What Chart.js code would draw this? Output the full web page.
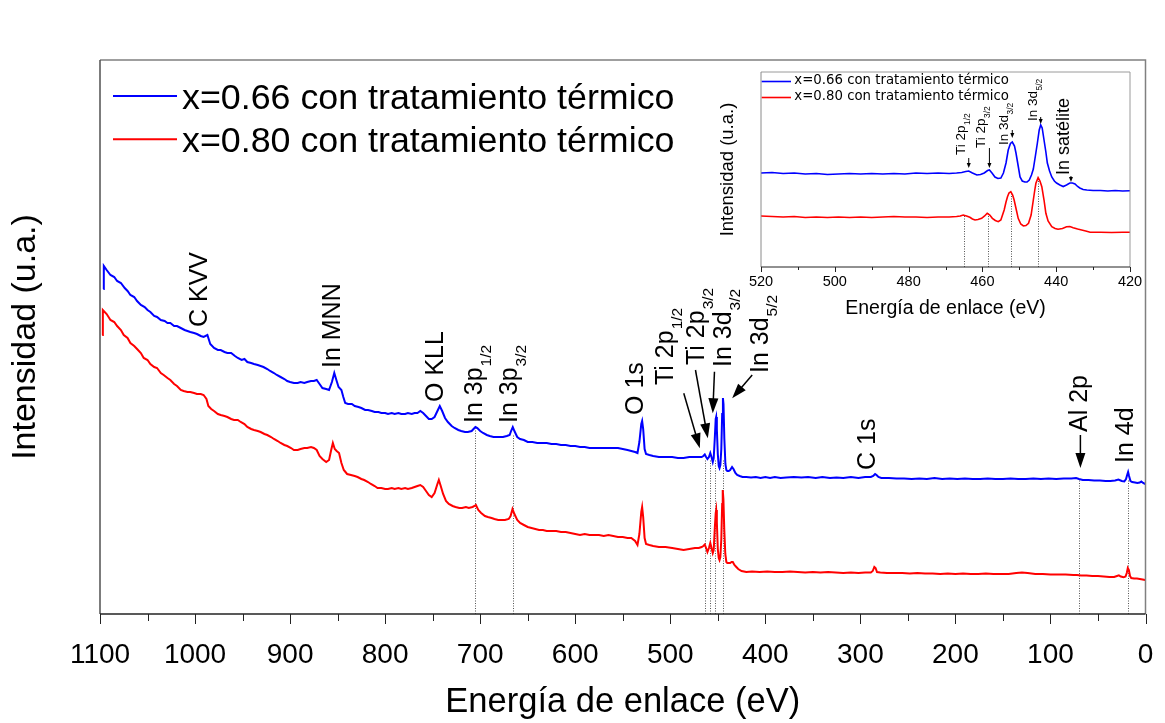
<!DOCTYPE html>
<html lang="es">
<head>
<meta charset="utf-8">
<title>Espectro XPS</title>
<script src="https://cdn.jsdelivr.net/npm/chart.js@4.4.1/dist/chart.umd.min.js"></script>
<style>
  html, body { margin: 0; padding: 0; background: #fff; }
  #wrap { position: relative; width: 1165px; height: 723px; }
  #survey { position: absolute; left: 0; top: 0; }
  #detail { position: absolute; left: 700px; top: 62px; }
</style>
</head>
<body>
<div id="wrap">
  <canvas id="survey" width="1165" height="723"></canvas>
  <canvas id="detail" width="445" height="263"></canvas>
</div>
<script>
const seriesLabels = ['x=0.66 con tratamiento térmico', 'x=0.80 con tratamiento térmico'];
const seriesColors = ['#0000ff', '#ff0000'];

// survey spectrum, x = 0.66
const energyBlue = [
  1096.5, 1096, 1093, 1089, 1085, 1082, 1078, 1074, 1071, 1068, 1064, 1061, 1057, 1053, 1050, 1047,
  1043, 1040, 1036, 1032, 1029, 1026, 1022, 1019, 1015, 1011, 1008, 1005, 1001, 998, 994, 991,
  987, 984, 980, 976, 973, 969, 966, 962, 958, 955, 951, 948, 945, 941, 938, 934, 931, 928, 924,
  921, 917, 914, 910, 906, 903, 900, 896, 892, 889, 885, 882, 878, 875, 872, 869, 866, 862, 859,
  856, 853.5, 851, 849, 846, 844, 842, 839, 835, 832, 828, 825, 821, 818, 814, 811, 807, 804, 800,
  797, 793, 790, 786, 783, 779, 776, 772, 769, 766, 763, 760, 757, 754, 751, 748, 745, 742.5, 740,
  737, 734, 730, 727, 723, 720, 716, 713, 709, 707, 705, 703, 700, 697, 693, 690, 686, 683, 679,
  676, 672, 669, 667.5, 665.7, 664, 661, 658, 654, 650, 645, 640, 635, 630, 625, 620, 615, 610,
  605, 600, 595, 590, 585, 580, 575, 570, 565, 560, 555, 550, 545, 541, 537, 534.5, 532.5, 530.5,
  529.6, 528.5, 527, 525.5, 522, 518, 512, 505, 498, 492, 486, 480, 474, 470, 467, 465.2, 463.7,
  462.3, 460.9, 459.3, 457.9, 456.6, 455.3, 454.3, 453.2, 452.2, 451.7, 451, 450, 449, 448.2,
  447.3, 446.3, 445.4, 444.6, 444, 443.1, 442, 441, 440, 438.5, 437, 435, 433.5, 431.5, 429.6,
  427, 424, 420, 415, 410, 405, 400, 395, 390, 384, 378, 370, 362, 355, 347, 340, 332, 325, 318,
  310, 302, 295, 289, 286.5, 284.5, 283, 281, 278, 270, 262, 254, 246, 238, 230, 222, 214, 206,
  198, 190, 182, 174, 166, 158, 150, 142, 134, 126, 118, 110, 102, 94, 86, 78, 73, 70, 66, 60, 54,
  48, 42, 37, 32, 28.5, 25, 22.3, 20.5, 19, 18.3, 17.3, 15.8, 14, 11, 8.6, 6, 4.4, 2.5, 0.3
];
const intensityBlue = [
  325, 348, 344, 339, 337, 333, 331, 326, 323, 319, 317, 313, 309, 307, 304, 302,
  298, 297, 294, 293, 291, 291, 288, 288, 286, 284, 283, 282, 281, 280, 278, 277,
  279, 270, 266, 264, 264, 262, 261, 261, 258, 256, 254, 255, 252, 251, 250, 249, 248, 247, 245,
  243, 241, 239, 237, 235, 233, 232, 231, 231, 232, 231, 232, 233, 233, 234, 230, 226, 225, 224,
  232, 241, 233, 227, 224, 217, 211, 210, 210, 208, 207, 206, 204, 204, 203, 202, 202, 201, 201,
  200, 201, 200, 201, 200, 200, 201, 200, 201, 201, 203, 201, 198, 195, 195, 197, 203, 208, 203,
  196, 192, 188, 186, 184, 183, 182, 182, 183, 185, 187, 186, 183, 181, 179, 178, 177, 177, 177,
  177, 178, 179, 183, 187, 183, 177, 175, 174, 172, 172, 171, 171, 171, 170, 170, 169, 169,
  168, 168, 167, 167, 166, 166, 166, 166, 166, 166, 166, 165, 164, 163, 162, 161, 172, 190,
  193, 185, 165, 160, 159, 158, 157, 157, 157, 156, 156, 157, 157, 157, 157, 158, 159.5,
  157, 155, 157, 161, 157, 152, 156, 175, 195, 197, 185, 160, 148, 146,
  149, 165, 200, 216, 210, 175, 150, 144, 143, 143, 144, 147, 145, 141, 139,
  138, 137, 137, 136.5, 137, 136, 137, 136, 137, 136, 136.5, 137, 136.5, 137, 136, 137, 136, 136.5, 136,
  137, 136, 137, 137, 138, 140, 139, 137, 136, 136, 135.5, 135.5, 135, 135.5, 135, 136, 135, 135.5,
  135, 135.5, 135, 135, 135.5, 135, 135, 135.5, 135, 135, 135.5, 135, 135.5, 135, 135.5, 135.5, 136, 135, 134, 134, 133.5,
  133.5, 133, 133, 133.5, 134.5, 133, 132.5, 135, 140, 142, 138, 133, 132, 131.5, 131, 131.5, 132.5, 131, 130
];

// survey spectrum, x = 0.80
const energyRed = [
  1097.7, 1097, 1093, 1089, 1085, 1082, 1078, 1075, 1071, 1068, 1064, 1061, 1057, 1054, 1050, 1047,
  1043, 1040, 1036, 1033, 1029, 1026, 1022, 1019, 1015, 1012, 1008, 1005, 1001, 998, 994, 991,
  988, 986, 983, 980, 976, 973, 969, 966, 962, 959, 955, 952, 948, 945, 941, 938, 934, 931, 927,
  924, 920, 917, 913, 910, 906, 903, 899, 896, 892, 889, 885, 882, 878, 875, 872, 869, 866, 862,
  859, 857, 855, 853, 851, 848.5, 846, 843.5, 840, 836, 832, 829, 825, 822, 818, 815, 811, 808,
  804, 800, 797, 793, 790, 786, 783, 779, 776, 772, 769, 766, 763, 760, 757, 754, 751, 748, 745,
  743.5, 741.5, 739, 736, 733, 729, 726, 722, 719, 715, 712, 708, 706, 704.5, 702, 699, 695, 692,
  688, 685, 681, 677, 674, 670, 668, 666, 664, 661, 658, 654, 650, 646, 642, 638, 634, 630, 625,
  620, 615, 610, 605, 600, 595, 590, 585, 580, 575, 570, 565, 560, 555, 550, 545, 541, 537, 534.5,
  532.5, 530.5, 529.6, 528.5, 527, 525.5, 522, 518, 512, 505, 498, 492, 486, 480, 474, 470, 467,
  465.2, 463.7, 462.3, 460.9, 459.3, 457.9, 456.6, 455.3, 454.3, 453.2, 452.2, 451.7, 451, 450,
  449, 448.2, 447.3, 446.3, 445.4, 444.8, 444.1, 443.2, 442.1, 441, 440, 438.5, 437, 435.5, 434.2,
  432.5, 430.5, 428.5, 425, 420, 414, 406, 398, 390, 382, 374, 366, 358, 350, 342, 334, 326, 318,
  310, 302, 295, 289, 287, 285.3, 284, 282.5, 279, 272, 264, 256, 248, 240, 232, 224, 216, 208,
  200, 192, 184, 176, 168, 160, 152, 144, 136, 130, 124, 116, 108, 100, 92, 84, 76, 72, 68, 62,
  56, 50, 44, 38, 33, 30, 28, 26, 23, 21, 19.7, 18.6, 17.5, 16.3, 15, 12, 9, 6, 3, 0.3
];
const intensityRed = [
  279, 304, 300, 294, 292, 288, 284, 279, 276, 271, 268, 265, 261, 256, 254, 250,
  247, 246, 241, 239, 236, 234, 230, 228, 224, 223, 222, 222, 221, 220, 220, 219,
  215, 208, 205, 203, 200, 199, 198, 197, 195, 194, 194, 192, 190, 187, 185, 184, 183, 182, 180,
  179, 177, 175, 173, 171, 169, 168, 166, 164, 164, 165, 166, 166, 167, 166, 164, 158, 155, 152,
  154, 163, 171, 165, 163, 161, 151, 144, 140, 139, 138, 137, 135, 134, 132, 130, 128, 126,
  126, 125, 125, 126, 125, 126, 125, 126, 125, 126, 127, 128, 129, 127, 123, 119, 117, 121, 130,
  134, 128, 120, 113, 110, 108, 107, 106, 106, 107, 106, 107, 108, 109, 104, 101, 98, 97,
  96, 95, 94, 94, 94, 95, 98, 105, 100, 94, 91, 89, 87, 86, 85, 84, 84, 83, 83,
  83, 82, 82, 81, 80, 79, 80, 79, 79, 79, 78, 79, 78, 77, 77, 76, 76, 73, 69,
  80, 102, 107, 97, 76, 70, 69, 68, 67, 67, 66, 65, 64, 65, 66, 66, 67,
  68, 69.5, 66, 62, 66, 71, 66, 61, 64, 85, 101, 104, 92, 65,
  56, 54, 57, 75, 110, 124, 115, 85, 60, 52, 51, 51, 51, 52, 52,
  49, 47, 45, 43, 42, 42.5, 42, 42.5, 42, 42, 42.5, 42, 41.5, 42, 41.5, 42, 41.5, 41,
  41.5, 41, 41.5, 41.5, 43, 47, 46, 42, 41.5, 41, 41, 41, 40.5, 41, 40.5, 40.5, 40, 40.5,
  40, 40.5, 40, 40, 40.5, 40, 40, 40, 41, 41.5, 41, 40, 40, 39.5, 39.5, 39.5, 39, 39, 38.5, 38.5,
  38, 38, 37.5, 37, 37, 38, 38.7, 37.5, 36.7, 37.5, 41, 46, 44, 38, 36, 35.5, 35.5, 35, 34.5, 34
];

// In 3d / Ti 2p detail window
const insetEnergyBlue = [
  520, 517, 514, 511, 508, 505, 502, 499, 496, 493, 490, 487, 484, 481, 478, 475, 472, 469, 467,
  465.6, 464.5, 463.7, 462.7, 461.5, 460.5, 459.5, 458.6, 458.1, 457.4, 456.6, 455.8, 455, 454.3,
  453.6, 453, 452.4, 451.9, 451.3, 450.9, 450.3, 449.8, 449.2, 448.5, 447.9, 447.3, 446.7, 446.2,
  445.6, 445.1, 444.6, 444.2, 443.8, 443.3, 442.8, 442.4, 441.8, 441.2, 440.5, 439.9, 439, 438.1,
  437.2, 436.3, 435.6, 434.9, 434.2, 433.6, 432.7, 431.7, 430, 428, 426, 424, 422, 420
];
const insetIntensityBlue = [
  94, 94.5, 93.5, 94, 93, 93.5, 92.5, 93, 93.5, 93, 93.5, 93, 93.5, 93, 94, 93.5, 94, 93.5, 94,
  94.5, 95.5, 96, 94, 92, 92.5, 94, 96.5, 97, 94, 90, 88.5, 89, 94,
  104, 117, 123.5, 125, 121, 114, 101, 90, 86, 85, 85, 87, 92, 98,
  112, 124, 137, 142, 139, 127, 115, 104, 96, 90, 86, 84, 82, 80.5,
  82, 84, 84, 83, 80.5, 79, 77.5, 77, 76.5, 76.5, 76, 76.5, 76, 76.3
];
const insetEnergyRed = [
  520, 517, 514, 511, 508, 505, 502, 499, 496, 493, 490, 487, 484, 481, 478, 475, 472, 469, 467,
  466, 465.2, 464.3, 463.4, 462.7, 462, 461.2, 460.2, 459.4, 458.7, 458, 457.3, 456.5, 455.7, 455,
  454.1, 453.6, 453.2, 452.8, 452.3, 451.8, 451.4, 450.8, 450.3, 449.6, 448.9, 448.2, 447.5, 446.8,
  446.2, 445.8, 445.5, 444.9, 444.4, 443.9, 443.3, 442.8, 442.2, 441.2, 440.3, 439.5, 438.3, 437.2,
  436.3, 435.4, 434.2, 433.1, 432, 430.8, 428, 425, 422, 420
];
const insetIntensityRed = [
  51, 50.5, 50, 50.5, 49.5, 50, 49.5, 50, 49.5, 50, 49.5, 50, 50.5, 50, 50, 49.5, 50, 50, 50.5,
  51, 52, 51, 49.7, 48, 47, 47.5, 48.7, 51, 53.7, 52, 48.7, 46.5, 45.3, 47,
  57, 65, 70.3, 74, 75.3, 72, 67, 57, 48.7, 43, 41, 41.5, 43.7, 52,
  67, 77, 83.7, 89.3, 86, 80.3, 67, 53.7, 46, 40.3, 38.5, 37.7, 38.5, 40.3,
  40.5, 39.3, 38, 37, 36, 34.7, 34.7, 34.5, 34.7, 34.7
];

const surveyMajorTicks = [1100, 1000, 900, 800, 700, 600, 500, 400, 300, 200, 100, 0];
const surveyMinorTicks = [1050, 950, 850, 750, 650, 550, 450, 350, 250, 150, 50];
const insetMajorTicks = [520, 500, 480, 460, 440, 420];
const insetMinorTicks = [510, 490, 470, 450, 430];

// peak assignments: baseline start of each vertical label, in energy / intensity units
const surveyLabels = [
  { text: 'C KVV', e: 987, i: 287 },
  { text: 'In MNN', e: 847, i: 246 },
  { text: 'O KLL', e: 738.6, i: 212 },
  { text: 'In 3p', sub: '1/2', e: 697.6, i: 191 },
  { text: 'In 3p', sub: '3/2', e: 660.8, i: 191 },
  { text: 'O 1s', e: 528.2, i: 199 },
  { text: 'Ti 2p', sub: '1/2', e: 497.1, i: 229 },
  { text: 'Ti 2p', sub: '3/2', e: 464.5, i: 249 },
  { text: 'In 3d', sub: '3/2', e: 436.1, i: 247 },
  { text: 'In 3d', sub: '5/2', e: 397.5, i: 241 },
  { text: 'C 1s', e: 284.3, i: 144 },
  { text: 'Al 2p', e: 61.5, i: 182 },
  { text: 'In 4d', e: 12.7, i: 151 }
];
const surveyArrows = [
  { e1: 485.8, i1: 220.7, e2: 468.9, i2: 165.7 },
  { e1: 473.5, i1: 244, e2: 460.5, i2: 175.7 },
  { e1: 453.5, i1: 242.3, e2: 455.3, i2: 200.7 },
  { e1: 413.8, i1: 239, e2: 434.9, i2: 215.7 },
  { e1: 68.5, i1: 179, e2: 68.5, i2: 146 }
];
const surveyGuides = [
  { e: 705, i: 184 }, { e: 665.7, i: 180 }, { e: 463.7, i: 155 }, { e: 458.4, i: 155 },
  { e: 452.7, i: 155 }, { e: 444.7, i: 154 }, { e: 69.5, i: 135 }, { e: 18.5, i: 134 }
];

const insetLabels = [
  { text: 'Ti 2p', sub: '1/2', e: 464.7, i: 112 },
  { text: 'Ti 2p', sub: '3/2', e: 459.3, i: 119 },
  { text: 'In 3d', sub: '3/2', e: 453, i: 122 },
  { text: 'In 3d', sub: '5/2', e: 445.3, i: 146 },
  { text: 'In satélite', e: 436.5, i: 92, size: 18 }
];
const insetArrows = [
  { e1: 463.7, i1: 109, e2: 463.7, i2: 99 },
  { e1: 458.1, i1: 119, e2: 458.1, i2: 99 },
  { e1: 451.9, i1: 137, e2: 451.9, i2: 129 },
  { e1: 444.2, i1: 150, e2: 444.2, i2: 143 },
  { e1: 436, i1: 91, e2: 436, i2: 85 }
];
const insetGuides = [
  { e: 465.1, i: 52 }, { e: 458.5, i: 54 }, { e: 452.3, i: 74 }, { e: 445, i: 88 }
];

const SANS = '"Liberation Sans", Arial, sans-serif';

function pairs(xs, ys) {
  return xs.map((x, k) => ({ x: x, y: ys[k] }));
}

function datasets(width) {
  return [
    { label: seriesLabels[0], data: [], borderColor: seriesColors[0], borderWidth: width, pointRadius: 0, tension: 0 },
    { label: seriesLabels[1], data: [], borderColor: seriesColors[1], borderWidth: width, pointRadius: 0, tension: 0 }
  ];
}

function vtext(ctx, x, y, text, sub, size) {
  ctx.save();
  ctx.translate(x, y);
  ctx.rotate(-Math.PI / 2);
  ctx.fillStyle = '#000';
  ctx.textBaseline = 'alphabetic';
  ctx.textAlign = 'left';
  ctx.font = size + 'px ' + SANS;
  ctx.fillText(text, 0, 0);
  if (sub) {
    const w = ctx.measureText(text).width;
    ctx.font = (size * 0.62) + 'px ' + SANS;
    ctx.fillText(sub, w + size * 0.04, size * 0.36);
  }
  ctx.restore();
}

function arrow(ctx, x1, y1, x2, y2, head, width) {
  const a = Math.atan2(y2 - y1, x2 - x1);
  const c = Math.cos(a), s = Math.sin(a);
  ctx.beginPath();
  ctx.moveTo(x1, y1);
  ctx.lineTo(x2 - c * head * 0.8, y2 - s * head * 0.8);
  ctx.stroke();
  ctx.beginPath();
  ctx.moveTo(x2, y2);
  ctx.lineTo(x2 - head * c + width / 2 * s, y2 - head * s - width / 2 * c);
  ctx.lineTo(x2 - head * c - width / 2 * s, y2 - head * s + width / 2 * c);
  ctx.closePath();
  ctx.fill();
}

function notesPlugin(cfg) {
  return {
    id: 'notes',
    beforeDatasetsDraw(chart) {
      const { ctx, scales: { x, y } } = chart;
      ctx.save();
      ctx.strokeStyle = '#555';
      ctx.lineWidth = 1;
      ctx.setLineDash([1, 1.5]);
      cfg.guides.forEach(g => {
        const px = Math.round(x.getPixelForValue(g.e)) + 0.5;
        ctx.beginPath();
        ctx.moveTo(px, y.getPixelForValue(0));
        ctx.lineTo(px, y.getPixelForValue(g.i));
        ctx.stroke();
      });
      ctx.restore();
    },
    afterDatasetsDraw(chart) {
      const { ctx, chartArea: a, scales: { x, y } } = chart;
      ctx.save();
      cfg.labels.forEach(l => {
        vtext(ctx, x.getPixelForValue(l.e), y.getPixelForValue(l.i), l.text, l.sub, l.size || cfg.labelSize);
      });
      ctx.strokeStyle = '#000';
      ctx.fillStyle = '#000';
      ctx.lineWidth = cfg.arrowWidth;
      cfg.arrows.forEach(r => {
        arrow(ctx, x.getPixelForValue(r.e1), y.getPixelForValue(r.i1),
          x.getPixelForValue(r.e2), y.getPixelForValue(r.i2), cfg.head[0], cfg.head[1]);
      });

      // frame: light top/right, darker left, dark bottom axis with outward ticks
      ctx.lineWidth = cfg.frameWidth;
      ctx.strokeStyle = cfg.frameColor;
      ctx.beginPath();
      ctx.moveTo(a.left, a.top);
      ctx.lineTo(a.right, a.top);
      ctx.lineTo(a.right, a.bottom);
      ctx.stroke();
      ctx.strokeStyle = cfg.leftColor;
      ctx.beginPath();
      ctx.moveTo(a.left, a.top);
      ctx.lineTo(a.left, a.bottom);
      ctx.stroke();
      ctx.strokeStyle = '#222';
      ctx.beginPath();
      ctx.moveTo(a.left, a.bottom);
      ctx.lineTo(a.right, a.bottom);
      ctx.stroke();
      ctx.lineWidth = 1;
      cfg.major.forEach(v => {
        const px = Math.round(x.getPixelForValue(v)) + 0.5;
        ctx.beginPath(); ctx.moveTo(px, a.bottom); ctx.lineTo(px, a.bottom + cfg.tick[0]); ctx.stroke();
      });
      cfg.minor.forEach(v => {
        const px = Math.round(x.getPixelForValue(v)) + 0.5;
        ctx.beginPath(); ctx.moveTo(px, a.bottom); ctx.lineTo(px, a.bottom + cfg.tick[1]); ctx.stroke();
      });

      // legend
      const lg = cfg.legend;
      chart.data.datasets.forEach((ds, k) => {
        const ly = lg.y + k * lg.gap;
        ctx.strokeStyle = ds.borderColor;
        ctx.lineWidth = lg.lineWidth;
        ctx.beginPath();
        ctx.moveTo(lg.x, ly);
        ctx.lineTo(lg.x + lg.len, ly);
        ctx.stroke();
        ctx.fillStyle = '#000';
        ctx.font = lg.font;
        ctx.textBaseline = 'alphabetic';
        ctx.textAlign = 'left';
        ctx.fillText(ds.label, lg.x + lg.len + lg.textGap, ly + lg.baseline);
      });
      ctx.restore();
    }
  };
}

function axes(o) {
  return {
    x: {
      type: 'linear', min: o.min, max: o.max, reverse: true,
      afterFit: s => { s.height = o.xHeight; },
      afterBuildTicks: s => {
        s.ticks = o.major.concat(o.minor).sort((p, q) => p - q).map(v => ({ value: v }));
      },
      ticks: {
        autoSkip: false, maxRotation: 0, color: '#000', padding: o.tickPad,
        font: { family: SANS, size: o.tickSize },
        callback: v => (o.major.includes(v) ? String(v) : '')
      },
      grid: { display: false, drawTicks: true, tickLength: o.tickLen },
      border: { display: false },
      title: {
        display: true, text: 'Energía de enlace (eV)', color: '#000',
        font: { family: SANS, size: o.titleSize }, padding: { top: 0, bottom: o.titlePad }
      }
    },
    y: {
      min: 0, max: o.yMax,
      afterFit: s => { s.width = o.yWidth; },
      ticks: { display: false },
      grid: { display: false, drawTicks: false },
      border: { display: false },
      title: {
        display: true, text: 'Intensidad (u.a.)', color: '#000',
        font: { family: SANS, size: o.yTitleSize }, padding: { top: o.yTitlePad, bottom: 0 }
      }
    }
  };
}

window.addEventListener('DOMContentLoaded', () => {
  const surveySets = datasets(2);
  surveySets[0].data = pairs(energyBlue, intensityBlue);
  surveySets[1].data = pairs(energyRed, intensityRed);

  new Chart(document.getElementById('survey'), {
    type: 'line',
    data: { datasets: surveySets },
    options: {
      responsive: false, animation: false, devicePixelRatio: 1,
      layout: { padding: { left: 0, right: 19.5, top: 60, bottom: 0 } },
      plugins: { legend: { display: false }, tooltip: { enabled: false } },
      scales: axes({
        min: 0, max: 1100, major: surveyMajorTicks, minor: surveyMinorTicks,
        xHeight: 109, tickPad: 14, tickSize: 28, tickLen: 10, titleSize: 34.5, titlePad: 0,
        yMax: 554, yWidth: 100, yTitleSize: 34, yTitlePad: 5
      })
    },
    plugins: [notesPlugin({
      guides: surveyGuides, labels: surveyLabels, arrows: surveyArrows,
      labelSize: 25, arrowWidth: 1.5, head: [15, 10],
      frameWidth: 1.5, frameColor: '#808080', leftColor: '#505050',
      major: surveyMajorTicks, minor: surveyMinorTicks, tick: [10, 7],
      legend: { x: 113, y: 96, gap: 43.3, len: 64, textGap: 5, baseline: 13, lineWidth: 2, font: '35.8px ' + SANS }
    })]
  });

  const insetSets = datasets(1.6);
  insetSets[0].data = pairs(insetEnergyBlue, insetIntensityBlue);
  insetSets[1].data = pairs(insetEnergyRed, insetIntensityRed);

  new Chart(document.getElementById('detail'), {
    type: 'line',
    data: { datasets: insetSets },
    options: {
      responsive: false, animation: false, devicePixelRatio: 1,
      layout: { padding: { left: 0, right: 15, top: 10, bottom: 0 } },
      plugins: { legend: { display: false }, tooltip: { enabled: false } },
      scales: axes({
        min: 420, max: 520, major: insetMajorTicks, minor: insetMinorTicks,
        xHeight: 58, tickPad: 1, tickSize: 14.5, tickLen: 5, titleSize: 19.5, titlePad: 5,
        yMax: 195, yWidth: 61, yTitleSize: 18.5, yTitlePad: 17
      })
    },
    plugins: [notesPlugin({
      guides: insetGuides, labels: insetLabels, arrows: insetArrows,
      labelSize: 13.5, arrowWidth: 1, head: [5, 4],
      frameWidth: 1, frameColor: '#9a9a9a', leftColor: '#8a8a8a',
      major: insetMajorTicks, minor: insetMinorTicks, tick: [5, 3],
      legend: { x: 61.7, y: 19.5, gap: 16, len: 29.3, textGap: 3.3, baseline: 2.5, lineWidth: 1.6, font: '13.3px "DejaVu Sans", Verdana, sans-serif' }
    })]
  });
});
</script>
</body>
</html>
